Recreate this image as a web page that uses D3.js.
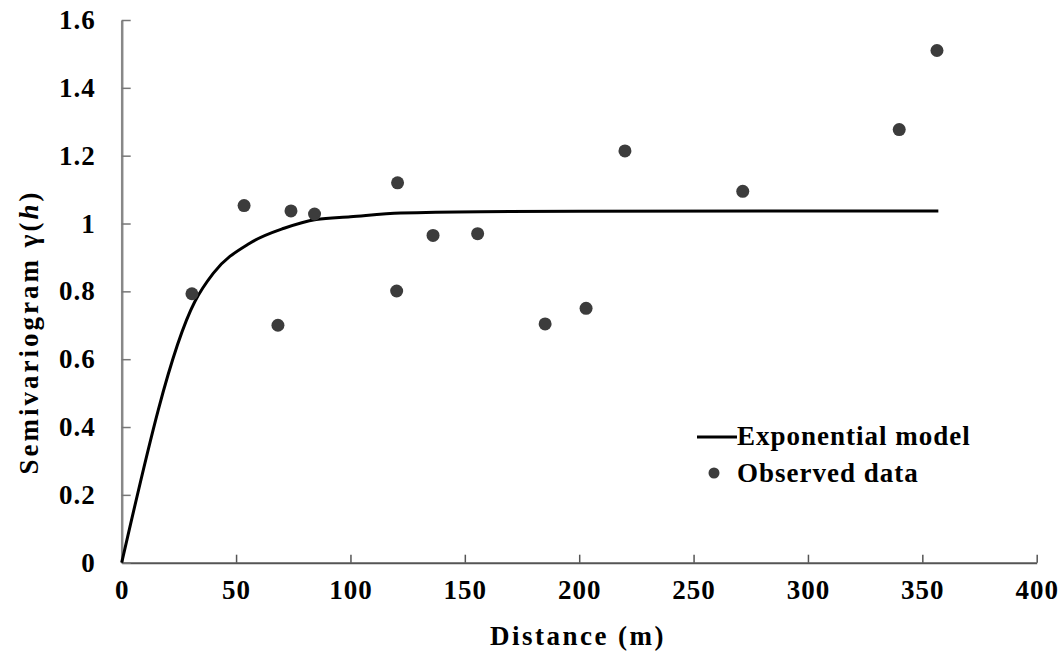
<!DOCTYPE html>
<html>
<head>
<meta charset="utf-8">
<script src="https://cdn.jsdelivr.net/npm/d3@7"></script>
<style>
  body { margin: 0; background: #fff; }
  text { font-family: "Liberation Serif", "Times New Roman", serif; font-weight: bold; fill: #000; }
</style>
</head>
<body>
<div id="chart"></div>
<script>
// observed semivariance per lag distance
var obsDistance = [30.7, 53.5, 68.3, 74.0, 84.3, 120.6, 120.2, 136.1, 155.6, 185.1, 203.0, 220.0, 271.5, 339.9, 356.4];
var obsGamma    = [0.793, 1.053, 0.700, 1.037, 1.028, 1.120, 0.801, 0.965, 0.970, 0.704, 0.750, 1.214, 1.095, 1.277, 1.510];

// fitted exponential model
var modelDistance = [0, 32, 40, 56, 71, 85, 100, 122, 157, 200, 357];
var modelGamma    = [0, 0.77, 0.853, 0.942, 0.986, 1.012, 1.020, 1.031, 1.035, 1.036, 1.037];

var xTicks = [0, 50, 100, 150, 200, 250, 300, 350, 400];
var yTicks = [0, 0.2, 0.4, 0.6, 0.8, 1, 1.2, 1.4, 1.6];

var width = 1058, height = 653;
var margin = {top: 20, right: 21.3, bottom: 90.3, left: 121.7};
var innerW = width - margin.left - margin.right,
    innerH = height - margin.top - margin.bottom;

var svg = d3.select("#chart").append("svg")
    .attr("width", width)
    .attr("height", height);

var g = svg.append("g")
    .attr("transform", "translate(" + margin.left + "," + margin.top + ")");

var x = d3.scaleLinear().domain([0, 400]).range([0, innerW]);
var y = d3.scaleLinear().domain([0, 1.6]).range([innerH, 0]);

// axes, ticks pointing into the plot
var xAxis = g.append("g")
    .attr("transform", "translate(0," + innerH + ")")
    .call(d3.axisBottom(x).tickValues(xTicks).tickSizeInner(-8).tickSizeOuter(0).tickPadding(17));
xAxis.select(".domain").attr("stroke", "#555").attr("stroke-width", 2);
xAxis.selectAll(".tick line").attr("stroke", "#555").attr("stroke-width", 1.5);

var yAxis = g.append("g")
    .call(d3.axisLeft(y).tickValues(yTicks).tickSizeInner(-9).tickSizeOuter(0).tickPadding(26)
        .tickFormat(function(d) { return d3.format("")(+d.toFixed(1)); }));
yAxis.select(".domain").attr("stroke", "#888").attr("stroke-width", 2.5);
yAxis.selectAll(".tick line").attr("stroke", "#777").attr("stroke-width", 1.5);

svg.selectAll(".tick text")
    .attr("font-size", 27)
    .attr("letter-spacing", 1)
    .attr("font-family", "Liberation Serif")
    .attr("font-weight", "bold")
    .attr("fill", "#000");

// model curve
var line = d3.line()
    .x(function(d, i) { return x(modelDistance[i]); })
    .y(function(d) { return y(d); })
    .curve(d3.curveMonotoneX);

g.append("path")
    .datum(modelGamma)
    .attr("d", line)
    .attr("fill", "none")
    .attr("stroke", "#000")
    .attr("stroke-width", 3);

// observed points
g.selectAll("circle.obs")
    .data(obsGamma)
    .enter().append("circle")
    .attr("class", "obs")
    .attr("cx", function(d, i) { return x(obsDistance[i]); })
    .attr("cy", function(d) { return y(d); })
    .attr("r", 6.5)
    .attr("fill", "#3c3c3c");

// legend
var legend = svg.append("g");
legend.append("line")
    .attr("x1", 697).attr("x2", 737)
    .attr("y1", 437).attr("y2", 437)
    .attr("stroke", "#000").attr("stroke-width", 3);
legend.append("text")
    .attr("x", 737).attr("y", 445)
    .attr("font-size", 27)
    .attr("letter-spacing", 1)
    .text("Exponential model");
legend.append("circle")
    .attr("cx", 714).attr("cy", 473)
    .attr("r", 5.5)
    .attr("fill", "#3c3c3c");
legend.append("text")
    .attr("x", 737).attr("y", 482)
    .attr("font-size", 27)
    .attr("letter-spacing", 1)
    .text("Observed data");

// axis titles
svg.append("text")
    .attr("x", 578).attr("y", 645)
    .attr("text-anchor", "middle")
    .attr("font-size", 27)
    .attr("letter-spacing", 2.5)
    .text("Distance (m)");

var yTitle = svg.append("text")
    .attr("transform", "translate(38,332) rotate(-90)")
    .attr("text-anchor", "middle")
    .attr("font-size", 27)
    .attr("letter-spacing", 3);
yTitle.append("tspan").text("Semivariogram γ(");
yTitle.append("tspan").attr("font-style", "italic").text("h");
yTitle.append("tspan").text(")");
</script>
</body>
</html>
